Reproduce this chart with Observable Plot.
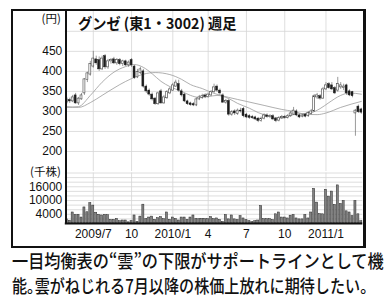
<!DOCTYPE html>
<html lang="ja"><head><meta charset="utf-8">
<script src="https://cdn.jsdelivr.net/npm/d3@7"></script>
<script src="https://cdn.jsdelivr.net/npm/@observablehq/plot@0.6"></script>
<style>
html,body{margin:0;padding:0;background:#fff;}
#wrap{position:relative;width:385px;height:297px;overflow:hidden;font-family:"Noto Sans CJK JP",sans-serif;color:#111;}
#wrap svg{position:absolute;left:0;top:0;}
.frame{position:absolute;left:11px;top:9px;width:355px;height:239px;box-sizing:border-box;border:2px solid #111;border-right-width:3px;}
.vline{position:absolute;left:65px;top:10px;width:2px;height:214px;background:#111;}
.lbl{position:absolute;white-space:nowrap;line-height:1;display:inline-block;transform-origin:0 50%;}
.tight{font-feature-settings:"halt" 1;}
</style></head><body><div id="wrap"></div>
<script>
// ---- data (weekly) ----
const openP  = [322,328,325,340,320,330,345,378,392,412,430,428,405,438,410,425,430,420,428,418,425,415,428,412,385,396,400,362,352,342,332,318,350,320,333,345,352,362,368,350,342,325,320,318,315,330,334,340,336,340,348,362,352,340,322,326,292,300,294,302,306,292,288,286,285,282,276,282,290,286,288,282,277,283,286,284,288,292,300,290,287,292,288,294,300,335,338,332,355,368,365,358,352,360,358,365,350,348,295,312,305];
const highP  = [335,333,340,345,335,345,382,398,425,450,438,436,438,442,430,432,435,432,432,428,428,426,432,415,405,410,405,366,356,346,335,348,355,340,352,360,370,378,378,355,345,328,323,322,334,340,343,344,346,352,368,366,356,344,330,330,302,304,306,308,310,295,292,290,288,285,286,294,294,292,292,285,287,290,290,292,300,310,304,293,293,295,300,305,342,345,342,360,372,372,372,362,385,372,368,368,354,350,305,316,308];
const lowP   = [318,320,322,318,315,328,340,372,388,408,415,400,402,405,405,418,417,415,414,412,412,410,410,380,382,392,358,345,338,326,315,315,318,318,330,342,350,360,348,336,322,315,313,312,312,327,330,332,333,337,345,348,340,320,318,288,288,290,290,296,284,282,280,280,277,272,273,279,283,282,277,272,274,280,281,281,285,290,287,282,284,284,285,291,298,330,328,330,352,355,352,342,348,355,352,340,337,334,238,295,293];
const closeP = [330,325,335,320,332,340,380,395,418,432,420,405,432,410,425,428,420,428,418,425,415,422,415,383,398,405,362,350,342,330,318,345,320,335,348,355,365,372,352,340,325,318,316,315,330,335,338,336,342,348,360,352,345,322,326,292,298,295,302,300,288,285,284,283,280,276,282,290,286,288,280,276,283,286,284,288,295,302,290,285,290,287,296,300,338,340,332,355,365,358,355,345,368,365,362,345,340,338,302,298,297];
const volume = [1800,1200,4800,3700,3800,2600,7000,4900,8900,7800,4700,3800,3500,3800,3600,1600,1600,2000,1000,1300,1300,500,1000,3500,700,3000,8200,2000,2600,3000,1600,2300,2800,1900,4800,1600,2600,2000,1300,2600,2600,1600,2600,3500,2000,1900,2000,2000,1900,2800,1900,2200,1500,700,3700,1800,3500,1800,1500,3200,2200,1500,1000,600,1000,1300,7600,1900,1900,1900,1500,4000,4800,2600,2600,2200,3400,3700,2200,1800,1800,3700,2200,4800,15100,9100,4100,4000,14700,11700,13900,8100,16600,8500,9800,5300,4800,3200,9800,4000,1000];
// moving averages read at sample weeks (index into weeks)
const ma13Week = [0,4,8,12,16,20,23,26,29,32,35,39,42,45,48,51,55,58,62,65,68,73,77,83,86,89,93,96,100];
const ma13Val  = [310,312,340,373,398,412,417,410,394,375,362,350,340,335,337,340,332,320,308,297,290,283,292,297,307,322,340,346,343];
const ma26Week = [0,4,8,12,18,22,26,30,35,39,42,46,50,55,61,67,73,77,81,85,88,93,100];
const ma26Val  = [312,310,322,340,367,382,393,397,392,380,367,357,345,335,325,315,305,300,293,292,296,310,325];
const tickDates  = ["2009-07-03","2009-10-02","2010-01-08","2010-04-02","2010-07-02","2010-10-01","2011-01-07"];
const tickLabels = ["2009/7","10","2010/1","4","7","10","2011/1"];
const priceTicks = [200,250,300,350,400,450];
const priceGrid  = [200,250,300,350,400,450,500];
const volTicks   = [4000,10000,16000];
const volGrid    = [2000,4000,6000,8000,10000,12000,14000,16000,18000,20000,22000];
const titleText = "グンゼ (東1・3002) 週足";
const captionLine1 = "一目均衡表の“雲”の下限がサポートラインとして機";
const captionLine2a = "能", captionLine2b = "。", captionLine2c = "雲がねじれる7月以降の株価上放れに期待したい。";

// ---- build ----
const fmt = d3.utcFormat("%Y-%m-%d");
const dates = d3.utcFriday.range(new Date(Date.UTC(2009,4,1)), new Date(Date.UTC(2011,3,2))).map(fmt);
const candles = dates.map((d,i)=>({date:d, open:openP[i], high:highP[i], low:lowP[i], close:closeP[i], vol:volume[i]}));
const up = candles.filter(d=>d.close>=d.open), down = candles.filter(d=>d.close<d.open);
const ma13 = ma13Week.map((w,i)=>({date:dates[w], v:ma13Val[i]}));
const ma26 = ma26Week.map((w,i)=>({date:dates[w], v:ma26Val[i]}));

const X0 = 64.8, X1 = 362.3;
const xOpt = {type:"band", domain:dates, range:[X0,X1], paddingInner:0, paddingOuter:0, axis:null};
const font = "'Liberation Sans', Arial, sans-serif";
const gridC = "#d6d6d6";

const price = Plot.plot({
  width:385, height:172, marginTop:10, marginBottom:1, marginLeft:X0, marginRight:385-X1,
  x:xOpt,
  y:{domain:[150,552], range:[171,10], axis:null},
  style:{background:"transparent", fontFamily:font, fontSize:"12px", color:"#111", overflow:"visible"},
  marks:[
    Plot.ruleY(priceGrid, {stroke:gridC, strokeWidth:0.8}),
    Plot.ruleX(tickDates, {stroke:gridC, strokeWidth:0.8}),
    Plot.axisY(priceTicks, {anchor:"left", tickSize:0, tickPadding:3, fontSize:12, label:null, tickFormat:d3.format("d")}),
    Plot.line(ma26, {x:"date", y:"v", stroke:"#9a9a9a", strokeWidth:0.8, curve:"monotone-x"}),
    Plot.line(ma13, {x:"date", y:"v", stroke:"#9a9a9a", strokeWidth:0.8, curve:"monotone-x"}),
    Plot.ruleX(candles, {x:"date", y1:"low", y2:"high", stroke:"#555", strokeWidth:0.6}),
    Plot.barY(up, {x:"date", y1:"open", y2:"close", fill:"white", stroke:"#444", strokeWidth:0.6, insetLeft:0.5, insetRight:0.5}),
    Plot.barY(down, {x:"date", y1:"open", y2:"close", fill:"#1c1c1c", stroke:"#1c1c1c", strokeWidth:0.5, insetLeft:0.5, insetRight:0.5})
  ]
});

const vol = Plot.plot({
  width:385, height:250, marginTop:172.5, marginBottom:27, marginLeft:X0, marginRight:385-X1,
  x:xOpt,
  y:{domain:[0,22000], range:[223,172.5], axis:null},
  style:{background:"transparent", fontFamily:font, fontSize:"12px", color:"#111", overflow:"visible"},
  marks:[
    Plot.ruleY(volGrid, {stroke:gridC, strokeWidth:0.8}),
    Plot.ruleX(tickDates, {stroke:gridC, strokeWidth:0.8}),
    Plot.barY(candles, {x:"date", y:"vol", fill:"#828282", stroke:"#2a2a2a", strokeWidth:0.5, insetLeft:0.45, insetRight:0.45}),
    Plot.axisY(volTicks, {anchor:"left", tickSize:0, tickPadding:3, fontSize:12, label:null, tickFormat:d3.format("d")}),
    Plot.axisX(tickDates, {anchor:"bottom", tickSize:0, tickPadding:6, fontSize:12, label:null, tickFormat:d=>tickLabels[tickDates.indexOf(d)]}),
    Plot.ruleY([0], {stroke:"#111", strokeWidth:2.2})
  ]
});

const wrap = document.getElementById("wrap");
wrap.append(price, vol);
const fr = document.createElement("div"); fr.className="frame"; wrap.append(fr);
const vl = document.createElement("div"); vl.className="vline"; wrap.append(vl);

function label(parts, left, cy, size, weight, target){
  const el = document.createElement("div");
  el.className = "lbl";
  for (const p of [].concat(parts)) {
    if (typeof p === "string") el.append(document.createTextNode(p));
    else { const s = document.createElement("span"); s.className = p.cls; s.textContent = p.t; el.append(s); }
  }
  el.style.left = left+"px"; el.style.fontSize = size+"px"; el.style.fontWeight = weight;
  el.style.top = (cy - 0.556*size)+"px";
  wrap.append(el);
  if (target) el.dataset.target = target;
  return el;
}
const labs = [
  label(titleText, 77.5, 23, 15, 700, 158),
  label("(円)", 41.5, 19.7, 11.5, 400),
  label("(千株)", 30, 172.5, 11.5, 400),
  label(captionLine1, 12, 261.5, 18, 500, 371.5),
  label([captionLine2a, {cls:"tight", t:captionLine2b}, captionLine2c], 12, 286.5, 18, 500, 363)
];
function fit(){
  for (const el of labs){
    const t = +el.dataset.target; if (!t) continue;
    const w = el.offsetWidth;
    if (w>0) el.style.transform = `scaleX(${t/w})`;
  }
}
fit();
if (document.fonts && document.fonts.ready) document.fonts.ready.then(fit);
</script></body></html>
